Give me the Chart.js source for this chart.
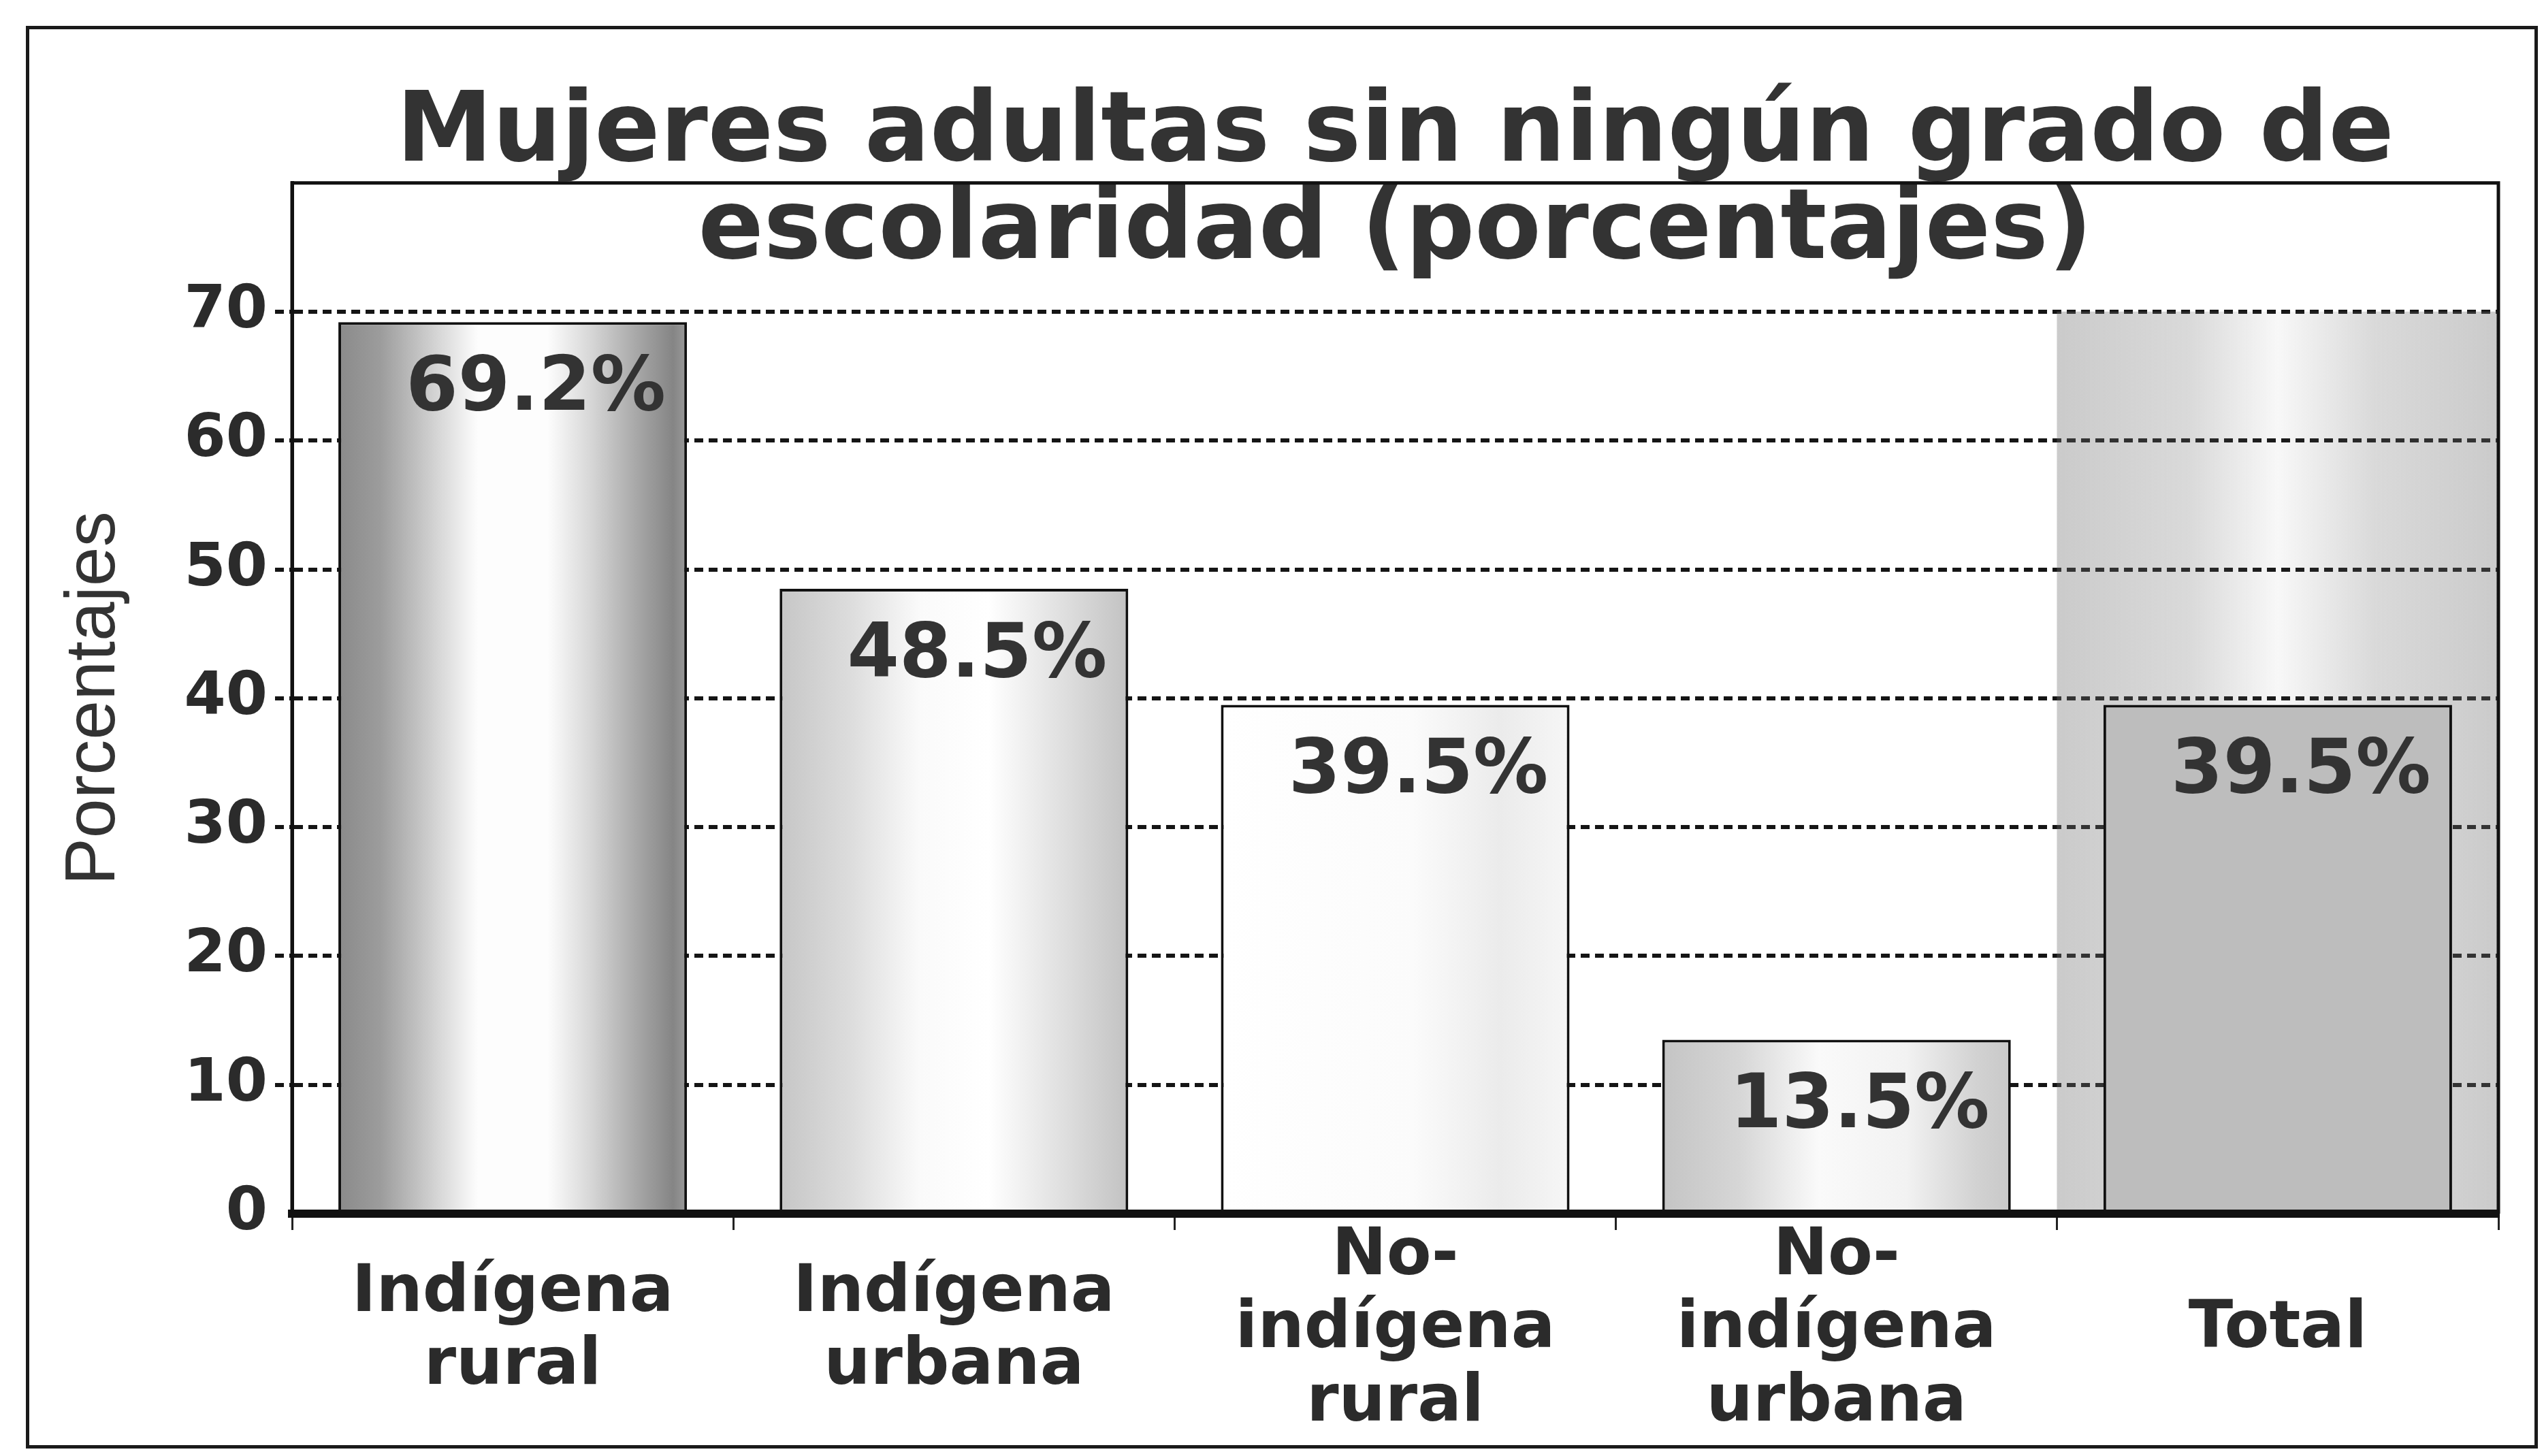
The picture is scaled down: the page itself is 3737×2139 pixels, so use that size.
<!DOCTYPE html>
<html>
<head>
<meta charset="utf-8">
<script src="https://cdn.jsdelivr.net/npm/chart.js@4"></script>
<style>
  body { margin: 0; background: #fff; }
  #marco {
    position: absolute;
    left: 38px;
    top: 38px;
    width: 3680px;
    height: 2080px;
    border: 5px solid #1a1a1a;
  }
</style>
</head>
<body>
<div id="marco"><canvas id="grafico"></canvas></div>
<script>
const etiquetas = [
  ["Indígena", "rural"],
  ["Indígena", "urbana"],
  ["No-", "indígena", "rural"],
  ["No-", "indígena", "urbana"],
  "Total",
];
const valores = [69.2, 48.5, 39.5, 13.5, 39.5];
const fondoTotal = [null, null, null, null, 70];
const ticksY = [0, 10, 20, 30, 40, 50, 60, 70];

// degradados horizontales de cada barra (escaneado en grises)
const degradados = [
  [[0, "#8a8a8a"], [0.12, "#9c9c9c"], [0.28, "#d4d4d4"], [0.4, "#fdfdfd"], [0.6, "#fdfdfd"], [0.72, "#d8d8d8"], [0.86, "#a6a6a6"], [0.96, "#858585"], [1, "#9a9a9a"]],
  [[0, "#c6c6c6"], [0.2, "#dcdcdc"], [0.4, "#fafafa"], [0.6, "#ffffff"], [0.82, "#dedede"], [1, "#c2c2c2"]],
  [[0, "#ffffff"], [0.55, "#fbfbfb"], [0.8, "#ebebeb"], [1, "#f6f6f6"]],
  [[0, "#c4c4c4"], [0.22, "#d6d6d6"], [0.45, "#fafafa"], [0.7, "#f2f2f2"], [0.9, "#d2d2d2"], [1, "#c8c8c8"]],
  [[0, "#bdbdbd"], [1, "#bdbdbd"]],
];
const degradadoFondo = [[0, "rgba(110,110,110,0.36)"], [0.3, "rgba(110,110,110,0.26)"], [0.5, "rgba(110,110,110,0.05)"], [0.72, "rgba(110,110,110,0.26)"], [1, "rgba(110,110,110,0.36)"]];

const anchoRelativo = 0.79;

const relleno = (paradas, fraccion) => (c) => {
  const chart = c.chart;
  if (!chart.chartArea || c.type !== "data") return "#cccccc";
  const xs = chart.scales.x;
  const cx = xs.getPixelForValue(c.dataIndex);
  const mitad = (xs.width / etiquetas.length) * fraccion / 2;
  const g = chart.ctx.createLinearGradient(cx - mitad, 0, cx + mitad, 0);
  const lista = typeof paradas === "function" ? paradas(c.dataIndex) : paradas;
  lista.forEach(([p, col]) => g.addColorStop(p, col));
  return g;
};

const marcoArea = {
  id: "marcoArea",
  afterDatasetsDraw(chart) {
    const { ctx, chartArea: a } = chart;
    ctx.save();
    ctx.strokeStyle = "#111";
    ctx.lineWidth = 5;
    ctx.beginPath();
    ctx.moveTo(a.left, a.bottom);
    ctx.lineTo(a.left, a.top);
    ctx.lineTo(a.right, a.top);
    ctx.lineTo(a.right, a.bottom);
    ctx.stroke();
    ctx.lineWidth = 12;
    ctx.beginPath();
    ctx.moveTo(a.left - 2, a.bottom);
    ctx.lineTo(a.right + 2, a.bottom);
    ctx.stroke();
    ctx.restore();
  },
};

const rotulos = {
  id: "rotulos",
  afterDatasetsDraw(chart) {
    const { ctx } = chart;
    const meta = chart.getDatasetMeta(0);
    ctx.save();
    ctx.font = "bold 110px 'DejaVu Sans'";
    ctx.fillStyle = "#333";
    ctx.textAlign = "center";
    ctx.textBaseline = "middle";
    meta.data.forEach((bar, i) => {
      ctx.fillText(valores[i].toFixed(1) + "%", bar.x + 34, bar.y + 100);
    });
    ctx.restore();
  },
};

const oculto = (v) => v === 0 || v === 80;

new Chart(document.getElementById("grafico"), {
  type: "bar",
  data: {
    labels: etiquetas,
    datasets: [
      {
        data: valores,
        order: 1,
        grouped: false,
        categoryPercentage: 1,
        barPercentage: anchoRelativo,
        backgroundColor: relleno((i) => degradados[i], anchoRelativo),
        borderColor: "#111",
        borderWidth: 4,
      },
      {
        data: fondoTotal,
        order: 2,
        grouped: false,
        categoryPercentage: 1,
        barPercentage: 1,
        backgroundColor: relleno(degradadoFondo, 1),
        borderWidth: 0,
      },
    ],
  },
  options: {
    responsive: true,
    maintainAspectRatio: false,
    animation: false,
    layout: { padding: { left: 0, right: 53, top: 0, bottom: 0 } },
    plugins: {
      legend: { display: false },
      tooltip: { enabled: false },
      title: {
        display: true,
        fullSize: false,
        text: ["Mujeres adultas sin ningún grado de", "escolaridad (porcentajes)"],
        color: "#333",
        font: { family: "'DejaVu Sans'", weight: "bold", size: 142, lineHeight: 1.01 },
        padding: { top: 84, bottom: -145 },
      },
    },
    scales: {
      x: {
        afterFit: (s) => { s.height = 340; },
        grid: {
          display: true,
          offset: true,
          drawOnChartArea: false,
          drawTicks: true,
          tickLength: 24,
          tickWidth: 3,
          tickColor: "#222",
        },
        border: { display: true, color: "#111", width: 12 },
        ticks: {
          color: "#2b2b2b",
          font: { family: "'DejaVu Sans'", weight: "bold", size: 96, lineHeight: 1.12 },
          padding: 40,
          crossAlign: "center",
          maxRotation: 0,
          autoSkip: false,
        },
      },
      y: {
        min: 0,
        max: 80,
        afterFit: (s) => { s.width = 386; },
        afterBuildTicks: (s) => {
          s.ticks = ticksY.concat([80]).map((v) => ({ value: v }));
        },
        grid: {
          color: (c) => (oculto(c.tick.value) ? "rgba(0,0,0,0)" : "#151515"),
          lineWidth: 6,
          drawTicks: true,
          tickLength: 25,
          tickWidth: 6,
          tickColor: (c) => (oculto(c.tick.value) ? "rgba(0,0,0,0)" : "#151515"),
          tickBorderDash: [13, 8],
        },
        border: { display: true, color: "#111", width: 5, dash: [13, 8] },
        ticks: {
          color: "#2b2b2b",
          font: { family: "'DejaVu Sans'", weight: "bold", size: 88 },
          padding: 11,
          callback: (v) => (v === 80 ? "" : String(v)),
        },
        title: {
          display: true,
          text: "Porcentajes",
          color: "#333",
          font: { family: "'Liberation Sans'", size: 104, lineHeight: 1.2 },
          padding: { top: 34, bottom: 0 },
        },
      },
    },
  },
  plugins: [marcoArea, rotulos],
});
</script>
</body>
</html>
